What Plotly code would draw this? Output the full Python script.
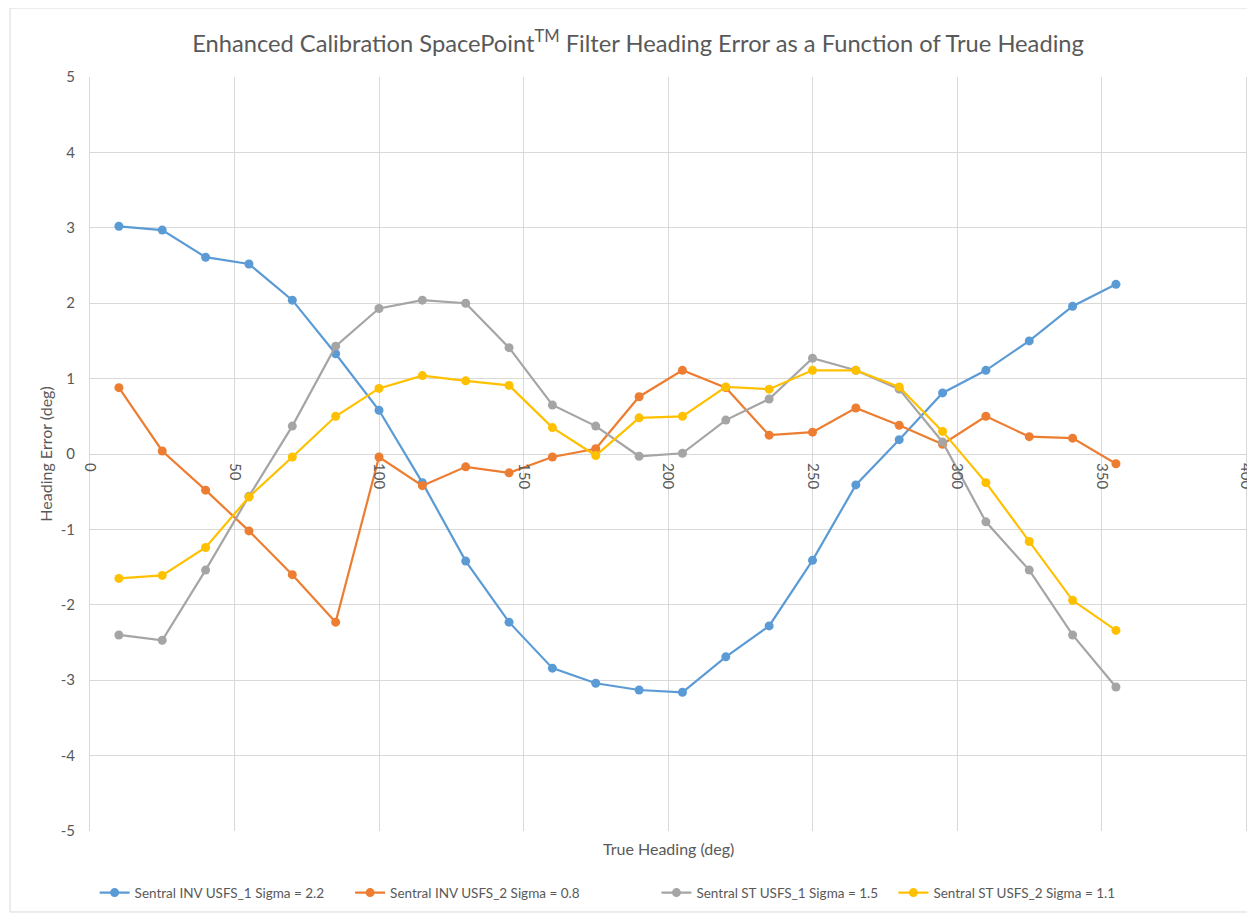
import plotly.graph_objects as go

heading = [10, 25, 40, 55, 70, 85, 100, 115, 130, 145, 160, 175, 190, 205,
           220, 235, 250, 265, 280, 295, 310, 325, 340, 355]

inv_usfs1 = [3.02, 2.97, 2.61, 2.52, 2.04, 1.33, 0.58, -0.38, -1.42, -2.23, -2.84, -3.04,
             -3.13, -3.16, -2.69, -2.28, -1.41, -0.41, 0.19, 0.81, 1.11, 1.50, 1.96, 2.25]
inv_usfs2 = [0.88, 0.04, -0.48, -1.02, -1.60, -2.23, -0.04, -0.42, -0.17, -0.25, -0.04, 0.07,
             0.76, 1.11, 0.88, 0.25, 0.29, 0.61, 0.38, 0.13, 0.50, 0.23, 0.21, -0.13]
st_usfs1 = [-2.40, -2.47, -1.54, -0.56, 0.37, 1.43, 1.93, 2.04, 2.00, 1.41, 0.65, 0.37,
            -0.03, 0.01, 0.45, 0.73, 1.27, 1.11, 0.86, 0.16, -0.90, -1.54, -2.40, -3.09]
st_usfs2 = [-1.65, -1.61, -1.24, -0.57, -0.04, 0.50, 0.87, 1.04, 0.97, 0.91, 0.35, -0.02,
            0.48, 0.50, 0.89, 0.86, 1.11, 1.11, 0.89, 0.30, -0.38, -1.16, -1.94, -2.34]

series_names = ["Sentral INV USFS_1 Sigma = 2.2", "Sentral INV USFS_2 Sigma = 0.8",
                "Sentral ST USFS_1 Sigma = 1.5", "Sentral ST USFS_2 Sigma = 1.1"]
series_values = [inv_usfs1, inv_usfs2, st_usfs1, st_usfs2]
series_colors = ["#5B9BD5", "#ED7D31", "#A5A5A5", "#FFC000"]

x_ticks = [0, 50, 100, 150, 200, 250, 300, 350, 400]
y_ticks = [-5, -4, -3, -2, -1, 0, 1, 2, 3, 4, 5]
y_tick_text = [str(v) for v in y_ticks]  # plain hyphen minus as in the reference

FONT = "Lato"
TXT = "#595959"
GRID = "#D9D9D9"

legend_ids = ["legend", "legend2", "legend3", "legend4"]
legend_x = [0.004, 0.225, 0.490, 0.695]

fig = go.Figure()
for name, vals, col, lid in zip(series_names, series_values, series_colors, legend_ids):
    fig.add_trace(go.Scatter(
        x=heading, y=vals, name=name, mode="lines+markers",
        line=dict(color=col, width=2.2),
        marker=dict(color=col, size=9),
        legend=lid,
    ))

legend_common = dict(orientation="h", y=-0.082, yanchor="middle", xanchor="left",
                     font=dict(family=FONT, size=13.5, color=TXT), bgcolor="rgba(0,0,0,0)")

layout_legends = {}
for lid, lx in zip(legend_ids, legend_x):
    layout_legends[lid] = dict(x=lx, **legend_common)

fig.update_layout(
    width=1255, height=918,
    paper_bgcolor="white", plot_bgcolor="white",
    margin=dict(l=82, r=17, t=69, b=95),
    font=dict(family=FONT, color=TXT, size=13),
    title=dict(text="Enhanced Calibration SpacePoint<sup>TM</sup> Filter Heading Error as a Function of True Heading",
               x=0.502, xref="container", xanchor="center", y=0.961, yanchor="middle",
               font=dict(family=FONT, size=23.7, color=TXT)),
    showlegend=True,
    xaxis=dict(range=[0, 400], tickvals=x_ticks, showgrid=True, gridcolor=GRID, gridwidth=1,
               zeroline=False, showline=False, tickangle=90, anchor="free", position=0.5,
               ticks="", ticklabelstandoff=8, automargin=False,
               tickfont=dict(family=FONT, size=15, color=TXT)),
    yaxis=dict(range=[-5, 5], tickvals=y_ticks, ticktext=y_tick_text,
               showgrid=True, gridcolor=GRID, gridwidth=1,
               zeroline=True, zerolinecolor=GRID, zerolinewidth=1,
               showline=True, linecolor=GRID, linewidth=1, mirror=True,
               ticks="", ticklabelstandoff=11, automargin=False,
               tickfont=dict(family=FONT, size=15, color=TXT),
               title=dict(text="Heading Error (deg)", standoff=4,
                          font=dict(family=FONT, size=16, color=TXT))),
    **layout_legends,
)

fig.add_annotation(text="True Heading (deg)", xref="paper", yref="paper", x=0.5, y=-0.0235,
                   showarrow=False, yanchor="middle", font=dict(family=FONT, size=16, color=TXT))
fig.add_shape(type="rect", xref="paper", yref="paper", x0=-0.0692, x1=1.0035, y0=-0.1074, y1=1.0915,
              line=dict(color="#D9D9D9", width=1))

fig.write_html("out.html")
